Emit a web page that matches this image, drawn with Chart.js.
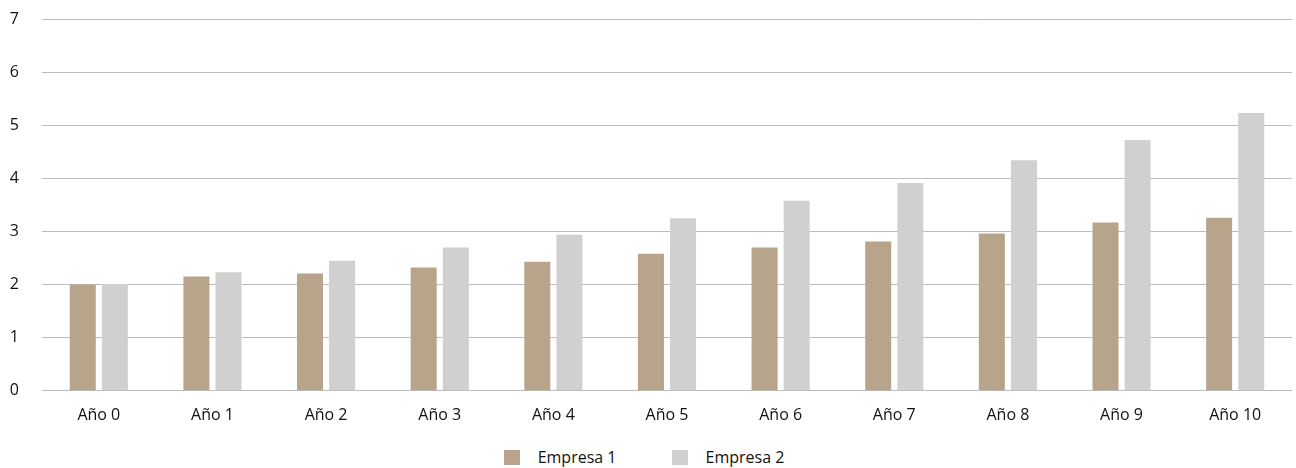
<!DOCTYPE html>
<html>
<head>
<meta charset="utf-8">
<script src="https://cdn.jsdelivr.net/npm/chart.js@4.4.0/dist/chart.umd.min.js"></script>
<style>
    html, body { margin: 0; padding: 0; background: #fff; }
    #wrap { position: relative; width: 1296px; height: 468px; }
    #chartBox { position: absolute; left: 0; top: 0; width: 1296px; height: 440px; }
    #legend {
        position: absolute; left: 0; top: 448px; width: 1288px; height: 18px;
        display: flex; justify-content: center; align-items: center;
        font-family: "Open Sans", sans-serif; font-size: 16px; color: #111;
    }
    .item { display: flex; align-items: center; }
    .item + .item { margin-left: 55px; }
    .swatch { width: 16px; height: 15px; margin-right: 18px; }
</style>
</head>
<body>
<div id="wrap">
    <div id="chartBox"><canvas id="barChart"></canvas></div>
    <div id="legend"></div>
</div>
<script>
var years = ["Año 0", "Año 1", "Año 2", "Año 3", "Año 4", "Año 5", "Año 6", "Año 7", "Año 8", "Año 9", "Año 10"];
var empresa1 = [2.0, 2.15, 2.21, 2.32, 2.43, 2.58, 2.7, 2.81, 2.96, 3.17, 3.26];
var empresa2 = [2.01, 2.23, 2.45, 2.7, 2.94, 3.25, 3.58, 3.91, 4.34, 4.72, 5.23];
var seriesNames = ["Empresa 1", "Empresa 2"];
var seriesColors = ["#b7a48b", "#d0d0d0"];

var data = {
    labels: years,
    datasets: [
        {
            label: seriesNames[0],
            backgroundColor: seriesColors[0],
            data: empresa1,
        },
        {
            label: seriesNames[1],
            backgroundColor: seriesColors[1],
            data: empresa2,
        },
    ],
};

var tickFont = { family: "Open Sans", size: 16 };

var options = {
    responsive: true,
    maintainAspectRatio: false,
    animation: false,
    categoryPercentage: 0.565,
    barPercentage: 0.81,
    layout: {
        padding: { top: 19, right: 4, left: 0, bottom: 0 },
    },
    scales: {
        x: {
            grid: { display: false, drawTicks: false },
            border: { display: false },
            ticks: { color: "#111", font: tickFont, padding: 15, maxRotation: 0 },
        },
        y: {
            min: 0,
            max: 7,
            grid: { color: "#bcbcbc", lineWidth: 1, drawTicks: false },
            border: { display: false },
            ticks: { stepSize: 1, color: "#111", font: tickFont, padding: 23 },
            // tick padding gets counted on every side, keep the axis narrow
            afterFit: function (scale) {
                scale.width = 42;
                scale.paddingTop = 0;
                scale.paddingBottom = 0;
            },
        },
    },
    plugins: {
        legend: { display: false },
        tooltip: { enabled: false },
    },
};

var ctx = document.getElementById("barChart").getContext("2d");
var barChart = new Chart(ctx, {
    type: "bar",
    data: data,
    options: options,
});

// simple html legend, spaced like the original
var legend = document.getElementById("legend");
seriesNames.forEach(function (name, i) {
    var item = document.createElement("div");
    item.className = "item";
    var sw = document.createElement("span");
    sw.className = "swatch";
    sw.style.background = seriesColors[i];
    var txt = document.createElement("span");
    txt.textContent = name;
    item.appendChild(sw);
    item.appendChild(txt);
    legend.appendChild(item);
});
</script>
</body>
</html>
